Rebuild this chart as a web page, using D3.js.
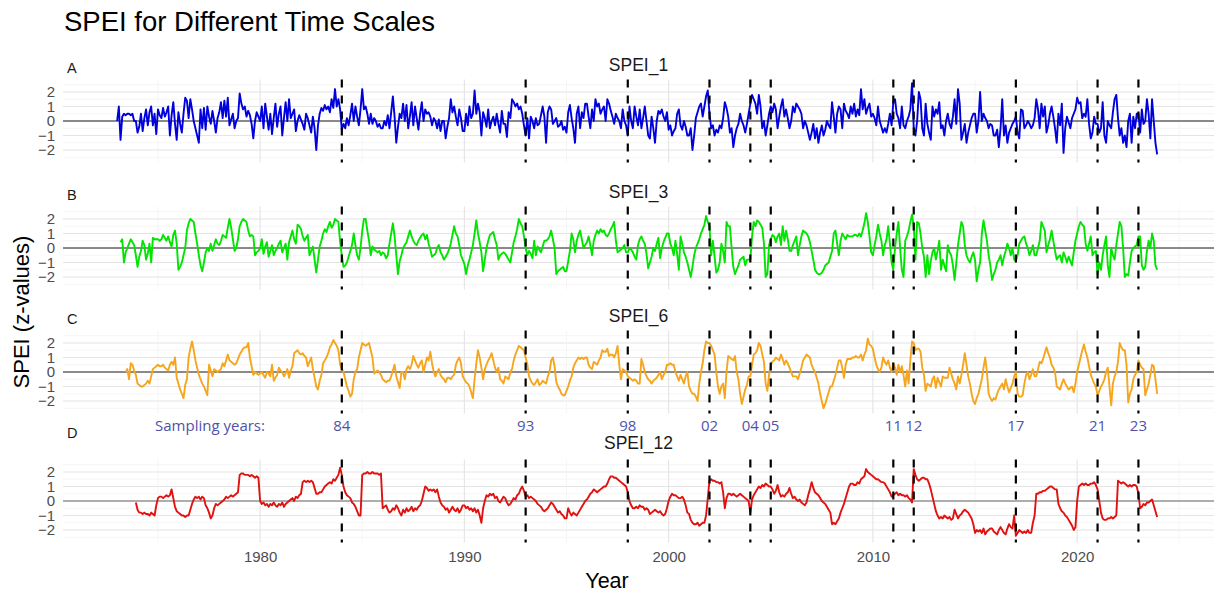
<!DOCTYPE html>
<html>
<head>
<meta charset="utf-8">
<script src="https://cdn.jsdelivr.net/npm/d3@7"></script>
<style>
  body { margin: 0; background: #fff; }
  text { font-family: "Liberation Sans", Arial, sans-serif; }
</style>
</head>
<body>
<svg class="s"></svg>
<script>
// monthly values, Jan 1973 - Dec 2023 (null = not yet defined for the time scale)
var spei1 = [
  0.0, 1.0, -1.3, 0.3, 0.5, 0.4, 0.5, 0.5, 0.4, 0.5, 0.0, 0.0,
  -0.8, -0.4, 0.5, -0.7, 0.2, 0.8, -0.3, 0.6, 1.0, -0.3, 0.5, -0.9,
  0.8, 0.4, 0.2, 0.9, 0.3, 0.6, 1.0, -1.0, 0.4, 1.3, -0.2, -1.3,
  0.6, -0.2, -0.8, 0.5, 1.6, 1.4, 0.2, 1.5, 0.8, 0.0, -0.5, -1.0,
  -1.5, 0.8, -0.5, 0.9, -0.6, 1.0, 0.3, -0.2, 0.7, 0.0, -0.8, 0.2,
  0.6, 1.3, 0.2, 1.4, 0.3, 1.6, -0.3, 0.1, 0.5, -0.5, 0.0, 0.2,
  1.9, 1.2, 0.8, 1.0, 0.3, 0.7, 0.4, -0.2, -1.2, 0.0, 0.6, 0.3,
  0.0, 1.0, -0.5, 1.2, 0.3, -0.6, 0.5, -0.9, 0.2, 1.2, -0.4, 0.5,
  1.0, -1.0, 0.2, 1.3, 0.0, 1.5, 0.2, 0.5, 0.8, -0.7, 0.0, 0.4,
  0.1, -0.2, -0.6, 0.5, 0.2, -0.3, -0.8, 0.3, -0.5, -2.0, -0.3, 0.5,
  0.9, 0.7, 1.1, 0.8, 1.0, 0.6, 1.5, 0.9, 2.2, 1.0, 1.5, 0.8,
  -0.6, -0.2, -0.5, 0.2, -0.3, 0.4, 1.2, 0.0, 1.0, 0.3, -0.3, 0.8,
  2.2, 0.8, 1.0, 0.5, -0.2, 0.5, -0.2, 0.2, 0.0, -0.4, -0.2, -0.5,
  -0.5, 0.0, -0.3, 0.4, -0.5, 0.6, 1.7, 0.3, -1.5, -0.4, 0.5, 0.2,
  1.2, 0.0, 1.1, -0.5, 0.3, 1.3, -0.3, 1.0, 0.2, -0.6, 0.5, 1.3,
  0.0, 0.8, 0.5, 0.6, 0.3, -0.3, 0.2, 0.0, -0.5, 0.1, -0.7, 0.0,
  0.0, -1.2, -0.4, 0.2, 1.5, 0.6, 1.0, 0.3, -0.3, 0.8, 0.2, -0.7,
  -0.7, 0.5, -0.3, 1.0, 0.2, 0.5, 2.1, 0.5, 1.2, 0.6, -1.0, 0.6,
  0.2, -0.4, 0.8, -0.5, 0.0, 0.3, -0.3, 0.5, -0.2, -0.8, 0.7, -0.2,
  -0.2, -1.1, 0.6, 0.2, 1.5, 1.3, 1.0, 1.2, 0.8, 1.0, 0.5, -0.3,
  -1.0, 0.2, -1.2, 0.3, 0.0, -0.5, 0.2, -0.3, -0.2, 0.4, 1.0, 0.3,
  -1.5, 0.6, 1.0, 0.8, -0.2, 0.0, 0.2, -0.4, -0.3, 0.0, -0.6, -0.4,
  -0.8, 0.6, 1.1, 0.2, -0.5, -1.5, 0.5, 1.0, -0.5, 0.6, 0.2, 1.2,
  1.2, 0.3, -0.5, 0.8, 0.0, 1.5, 1.0, 1.2, 0.5, 0.8, 1.0, 0.0,
  1.5, 1.2, 0.7, 0.3, -0.2, 0.5, 0.2, 0.0, -0.5, 0.8, 0.0, -0.3,
  -1.0, 1.0, 0.0, -0.5, 1.0, 0.3, -0.3, 0.8, -0.5, 0.2, 1.0, 0.0,
  -1.0, -1.2, 0.3, -0.5, -1.5, 0.0, 0.7, 0.5, 0.8, 0.3, 0.0, 0.6,
  -0.6, -0.3, -1.0, -0.7, -0.5, 0.5, 0.8, -0.3, -0.6, 0.0, -0.4, -1.0,
  -1.0, -0.5, -2.0, -1.0, 0.2, 0.6, 1.0, 1.2, 0.3, 1.0, 1.7, 2.1,
  0.5, -0.5, -0.3, -1.0, -0.6, -0.8, -0.3, -0.5, 0.2, 1.3, 0.9, 0.3,
  -0.8, -0.5, -1.8, -1.0, -0.5, -0.2, 0.5, 0.0, -0.3, -0.8, -0.2, 0.5,
  1.2, 1.8, 1.5, 1.2, 0.5, 1.8, 1.0, -0.5, 0.0, -1.0, -0.3, 0.5,
  1.0, 0.6, 1.2, 0.8, -0.5, 0.3, 1.0, 1.5, 0.3, 0.8, 0.2, -0.5,
  0.0, 1.0, 0.6, 1.2, 1.0, 0.8, 0.5, -0.5, 0.0, -0.3, -0.8, -1.3,
  -0.8, -0.2, -1.2, -0.5, -1.5, -0.8, -0.3, -1.0, -0.6, 0.0, -0.3, -0.5,
  1.3, 0.3, -0.8, 0.5, 1.0, 0.8, -0.5, 1.2, 0.7, 0.5, 0.2, 1.0,
  0.5, 1.2, 0.3, 0.8, 0.4, 2.2, 0.8, 1.5, 0.5, 0.9, 1.2, 0.3,
  0.5, 0.2, -0.3, 1.0, 0.0, -0.4, -0.8, -0.5, -0.8, -0.2, 0.5, -0.3,
  1.3, 1.5, 0.5, 0.2, -0.5, 1.0, -0.3, -0.5, 0.0, 0.3, 0.8, 2.6,
  -0.5, -1.0, 0.0, 2.0, 1.5, -0.5, -1.0, 1.2, -0.2, -0.8, -1.3, 1.0,
  0.3, 0.8, 0.5, 1.3, -0.5, -0.3, -1.0, 0.0, 0.5, -0.2, -0.5, 0.3,
  1.5, -0.2, 2.2, 1.2, -1.3, -0.8, -0.2, -1.5, -0.8, -0.3, 0.2, 0.5,
  0.5, -0.8, 0.0, 2.0, 0.0, 0.5, 0.2, 0.0, -0.5, -0.2, -0.3, -1.0,
  -1.0, -0.6, -1.8, -0.5, 1.5, -1.0, -0.3, -1.5, -0.8, -0.5, -0.2, 0.0,
  0.3, -0.8, -1.2, 0.8, 0.7, -0.5, -0.3, 0.0, -0.2, -0.5, -0.3, 0.2,
  1.5, 0.8, -0.5, 1.2, 0.3, 1.0, -0.8, -0.3, 0.5, 1.0, 0.3, -0.5,
  -1.5, 0.5, -0.3, 1.2, -2.2, -0.5, 0.3, -0.1, -0.5, 0.2, 0.5, 0.8,
  1.6, 1.2, 1.3, 0.2, 0.5, 0.3, 1.5, -0.2, -1.2, -0.8, 0.3, -0.2,
  -0.2, -0.8, -0.5, 1.3, -1.0, -1.5, 0.0, -0.3, -0.5, 0.6, 1.5, 1.8,
  0.2, -1.0, -0.5, -1.5, -1.0, -1.8, 0.0, 0.5, -1.5, 0.3, -0.5, 0.5,
  0.5, -0.8, 0.8, -0.2, 0.0, 1.5, 0.5, -1.2, 1.5, 0.0, -1.5, -2.3
];

var spei3 = [
  null, null, 0.4, 0.6, -1.0, -0.3, 0.0, 0.3, 0.6, 0.4, 0.2, -0.5,
  -1.3, -0.6, -0.2, 0.5, 0.2, -0.8, -0.4, 0.3, -1.0, 0.7, 0.6, 0.6,
  0.6, 0.5, 0.6, 0.9, 0.7, 0.5, 0.8, 0.4, 0.1, 0.9, 1.2, 0.3,
  -1.5, -1.3, -1.0, -0.5, 0.0, 1.2, 1.7, 2.0, 1.9, 1.8, 1.0, 0.3,
  -0.5, -1.2, -1.6, -1.0, -0.3, 0.0, -0.2, 0.3, -0.2, 0.2, 0.6, 0.3,
  0.2, 0.5, 0.9, 0.8, 0.7, 1.4, 2.0, 1.4, 0.6, -0.2, 0.0, 0.6,
  1.5, 1.8, 2.0, 1.9, 1.8, 1.2, 0.8, 0.9, 0.8, -0.5, -0.3, -0.2,
  0.0, 0.6, -0.4, 0.1, 0.4, -0.6, -0.2, 0.2, -0.5, -0.2, 0.0, 0.3,
  0.5, -0.3, 0.0, 0.3, -0.8, 0.4, 0.8, 1.2, 0.6, 0.3, 1.6, 1.5,
  1.3, 0.8, 0.5, 0.7, 0.9, -0.5, -0.2, 0.1, -0.8, -1.7, -0.8, 0.1,
  0.5, 1.0, 1.3, 1.1, 1.5, 1.8, 1.4, 1.6, 2.0, 1.9, 1.8, 0.4,
  -0.5, -1.3, -1.2, -1.0, -0.6, -0.2, 0.2, 1.0, 0.2, -0.5, -0.8, 0.0,
  1.2, 2.0, 2.0, 1.2, 0.5, -0.5, 0.1, -0.1, -0.2, -0.3, -0.2, -0.5,
  -0.3, -0.4, -0.7, -0.5, 0.3, 1.0, 1.7, 0.8, -0.5, -1.8, -0.9, -0.5,
  0.0, 0.2, 0.4, 0.8, 1.2, 0.8, 0.5, 0.3, 0.2, 0.5, 0.7, 0.9,
  1.0, 0.6, 0.9, 0.3, -0.1, -0.6, -0.5, -0.4, 0.0, 0.2, -0.3, -0.5,
  -0.8, -0.6, -0.4, -0.1, 0.3, 0.9, 1.5, 1.0, 0.8, 0.2, -0.5, -0.8,
  -1.1, -1.8, -1.2, -0.8, -0.3, 0.2, 1.0, 1.9, 1.0, 0.4, -0.3, -1.6,
  -0.8, 0.0, 0.5, 0.9, 1.0, 1.1, 0.6, 0.2, -0.8, -0.5, -0.4, -0.3,
  -0.4, -0.6, -0.8, -1.0, -0.3, 0.4, 0.8, 1.3, 2.0, 1.7, 1.5, 0.8,
  0.0, -0.5, -0.2, -0.4, -0.7, 0.5, -0.5, 0.1, -0.1, -0.3, 0.1, 0.5,
  0.5, 0.6, 0.8, 1.2, 0.6, 0.0, -1.8, -1.6, -1.5, -1.4, -1.3, -1.6,
  -1.6, -0.9, -0.2, 1.0, 0.6, -0.3, 0.5, 0.9, 1.2, 0.6, 0.0, 0.2,
  0.4, 0.8, 0.2, -0.5, 0.5, 0.9, 1.2, 1.0, 1.3, 1.1, 1.2, 0.9,
  0.8, 1.0, 1.3, 1.5, 1.8, 0.5, -0.3, -0.2, -0.1, 0.0, 0.2, -0.3,
  -0.3, 0.0, -0.1, -0.3, -0.6, -0.8, 0.2, 0.6, 0.8, 0.5, 0.3, -0.4,
  -1.4, -1.0, -0.6, 0.0, -0.2, 0.3, 0.7, -0.7, 0.0, 0.4, 0.7, 1.0,
  1.0, 0.3, 0.0, -0.5, 0.5, -0.4, -1.5, 0.8, 0.3, -0.3, -0.6, -1.0,
  -1.5, -2.0, -1.3, -0.5, 0.0, 0.3, 0.6, 1.0, 1.3, 1.6, 2.2, 1.8,
  1.5, -0.5, 0.5, -0.6, -1.7, -1.5, -1.0, 0.3, -0.2, -1.0, 1.8, 1.5,
  1.5, 0.0, -1.3, -1.8, -1.5, -1.2, -0.8, -0.7, -0.6, -1.2, -0.8, -0.8,
  -0.8, 0.8, 1.8, 1.5, 1.9, 1.8, 1.6, 1.4, 0.3, -2.0, -1.8, 0.2,
  0.6, 0.9, 0.8, 0.4, 0.8, 1.0, 0.2, 1.5, 0.5, 1.2, 0.6, -0.2,
  -0.2, 0.2, 0.5, 0.8, -0.5, 0.2, 0.8, 1.2, 1.1, 1.0, 0.8, 0.4,
  -0.2, -0.8, -1.5, -1.7, -1.8, -1.8, -1.7, -1.5, -1.2, -1.1, -1.0, -0.6,
  -0.2, 1.0, 1.2, 0.3, -0.5, 0.5, 1.0, 0.8, 0.6, 0.9, 0.8, 0.8,
  0.8, 0.9, 0.9, 0.8, 1.0, 0.8, 1.2, 1.7, 2.4, 1.8, 0.8, -0.3,
  -0.5, 0.2, 0.8, 1.6, 1.0, 0.5, -0.5, 0.2, 0.6, 1.5, 0.3, -1.0,
  -1.5, 0.0, 1.0, 1.8, 0.0, -1.5, -2.0, 0.5, 0.8, 1.2, 1.8, 2.3,
  1.5, -0.8, 1.8, 1.7, 1.0, 0.0, -0.6, -2.0, -0.5, -1.8, -0.9, -0.3,
  0.0, -0.8, -0.2, 0.5, -1.5, -0.8, -1.2, -1.6, 0.2, -0.3, -0.5, -1.2,
  -2.2, -1.0, 0.2, 1.0, 1.8, 1.5, 0.2, -0.5, -0.8, -1.0, -0.6, -0.3,
  -0.8, -2.3, -1.5, -1.0, 1.0, 1.9, 1.2, 0.5, -0.5, -1.2, -2.2, -1.8,
  -1.5, -1.0, -0.8, -0.5, -1.2, -0.6, -0.2, 0.3, 0.0, -0.5, 0.0, -0.8,
  -0.9, -0.5, 0.3, 0.5, 0.7, 0.8, 0.3, 0.0, -0.5, -0.2, 0.2, -0.5,
  -0.5, 0.0, 0.5, 1.8, 1.5, 1.2, -0.3, 0.2, 0.6, 1.2, 0.5, -0.2,
  -0.8, -0.6, -0.5, -1.0, -0.3, -0.6, -1.0, -0.6, -0.9, -1.2, -0.3, 0.5,
  1.0, 1.5, 1.8, 1.6, 1.5, 0.3, -0.2, 0.3, 0.8, -0.5, -0.3, -0.2,
  -1.8, -1.0, -1.5, -0.5, 0.2, 0.8, -1.2, -2.0, 0.0, -0.5, -0.8, 0.2,
  1.0, 1.8, 1.5, 0.0, -2.0, -1.8, -1.9, -1.0, -0.2, 0.0, 0.1, 0.2,
  0.8, 0.8, -1.2, -1.5, -1.3, -0.2, 0.5, 0.0, 1.0, 0.5, -1.2, -1.5
];

var spei6 = [
  null, null, null, null, null, 0.0, 0.2, -0.5, 0.6, 0.5, 0.1, -0.2,
  -0.8, -0.9, -1.0, -1.0, -0.9, -0.8, -0.6, -0.8, -0.3, 0.2, 0.3, 0.4,
  0.5, 0.4, 0.4, 0.5, 0.3, 0.2, 0.1, 0.5, 0.7, 0.5, 1.0, -0.4,
  -0.8, -1.2, -1.5, -1.8, -0.9, -0.5, 1.0, 1.6, 2.1, 1.5, 0.8, 0.3,
  -0.2, -0.5, -0.8, -1.0, -1.3, -1.6, 0.5, 0.1, -0.3, 0.2, 0.1, 0.0,
  0.1, 0.2, 0.6, 0.4, 0.8, 1.2, 0.8, 0.7, 0.6, 0.5, 0.6, 0.9,
  1.2, 1.4, 1.6, 1.7, 1.7, 2.0, 1.0, 0.4, -0.2, 0.0, -0.1, -0.2,
  -0.1, 0.0, -0.2, -0.4, 0.0, -0.1, -0.3, 0.5, -0.6, -0.4, -0.2, 0.3,
  0.1, 0.0, -0.3, -0.1, 0.2, -0.4, 0.1, 0.4, 1.3, 1.4, 1.5, 1.3,
  1.2, 1.3, 1.1, 1.0, 0.4, 0.7, 1.0, 0.2, -0.4, -1.0, -1.2, -0.6,
  -0.2, 0.6, 0.8, 1.0, 1.3, 1.7, 1.9, 2.2, 2.0, 1.8, 1.5, 0.5,
  0.2, 0.0, -0.5, -1.0, -1.3, -1.7, -1.5, -0.5, 0.0, 0.2, 1.0, 1.5,
  2.0, 1.9, 1.8, 1.9, 2.0, 1.5, 1.0, -0.1, 0.0, 0.1, 0.0, -0.2,
  -0.5, -0.6, -0.7, -0.6, -0.6, -0.3, 0.1, 0.5, -0.3, -0.7, -1.1, 0.0,
  0.0, -0.5, 0.2, 0.4, 0.2, 0.5, 1.1, 0.8, 0.5, 0.3, 0.6, 0.8,
  0.0, 0.5, 1.0, 0.8, 1.4, 0.6, 0.0, -0.3, 0.0, 0.2, -0.2, -0.4,
  -0.5, -0.7, -0.4, -0.4, -0.5, -0.3, -0.2, 0.5, 0.8, 1.0, 0.6, -0.3,
  -0.5, -0.7, -0.8, -1.0, -1.4, -1.8, -0.5, 0.6, 1.5, 1.0, 0.3, -0.5,
  0.2, 0.5, 0.8, 1.0, 1.3, 0.8, 0.3, 0.0, 0.3, -0.5, -0.6, -0.8,
  -0.3, -0.4, -0.5, 0.0, 0.2, 0.8, 1.2, 1.5, 1.8, 1.7, 1.6, 1.5,
  1.0, 0.5, -0.3, -0.6, -0.8, -0.9, -0.7, -0.5, -0.9, -0.8, -0.6, -0.7,
  -0.8, -0.3, 0.0, 0.8, 1.0, 0.4, -0.7, -1.0, -1.2, -1.5, -1.6, -1.6,
  -1.3, -1.0, -0.6, -0.3, 0.3, 0.6, 0.8, 1.0, 0.9, 1.0, 0.9, 1.0,
  1.0, 0.5, 0.3, 0.2, 0.7, 0.6, 0.5, 0.8, 1.0, 1.5, 1.4, 1.4,
  1.6, 1.1, 1.2, 1.2, 1.0, 1.3, 1.8, 0.5, -0.5, 0.2, 0.1, 0.0,
  -0.3, -0.4, -0.5, -0.6, -0.5, -0.6, -0.8, -0.8, 0.9, 0.5, 0.0, -0.3,
  -0.5, -0.6, -0.8, -0.6, -0.5, -0.4, -0.2, 0.0, -0.5, -0.2, 0.0, 0.5,
  0.5, 0.6, 0.5, 0.5, 0.0, -0.3, -0.6, -0.2, -0.5, -0.8, -0.3, 0.0,
  -1.0, -1.3, -1.5, -1.5, -1.7, -2.0, -0.8, 0.0, 0.6, 1.5, 2.1, 2.0,
  2.0, 1.8, 1.5, 1.2, 0.0, -1.0, -1.5, -1.0, -0.8, -1.8, 0.0, 1.1,
  1.0, 0.9, 0.8, 1.1, 0.0, -0.5, -1.5, -2.2, -1.7, -1.2, -0.9, -0.3,
  -0.3, 0.5, 1.2, 1.3, 1.5, 2.0, 1.8, 1.2, 0.7, -0.8, -1.3, -0.2,
  0.5, 0.7, 0.8, 1.0, 0.9, 0.8, 1.2, 0.9, 0.5, 0.8, 0.6, 0.3,
  0.0, -0.3, -0.3, -0.3, -0.5, -0.1, 0.3, 0.8, 1.0, 1.2, 1.1, 1.0,
  0.5, 0.2, 0.0, -0.4, -0.8, -1.5, -2.0, -2.5, -2.2, -1.8, -1.4, -1.0,
  -1.0, -0.6, -0.2, 0.3, 0.8, 0.8, 0.3, -0.4, 0.5, 0.9, 0.9, 0.9,
  1.0, 1.0, 1.1, 1.0, 1.0, 1.2, 0.8, 1.2, 1.5, 2.3, 1.9, 1.8,
  1.6, 1.0, 0.5, 0.2, 0.0, 0.3, 1.0, 0.7, 0.5, 0.8, 0.3, 0.0,
  0.6, 0.3, -0.2, 0.5, 0.0, 0.4, -0.2, -1.0, 0.1, -0.8, 0.8, 2.1,
  2.0, 1.5, 1.6, 1.6, 1.4, 0.3, -0.2, -1.3, -0.8, -0.9, -1.0, -0.5,
  -0.3, -1.1, -0.4, -0.7, -1.0, -0.3, -0.4, -0.4, -0.4, 0.3, -0.1, -0.5,
  -0.8, -1.2, -0.3, -0.8, -0.2, 0.5, 1.3, 0.5, -0.3, -0.8, -1.5, -2.0,
  -2.2, -1.8, -1.5, -1.0, -0.5, 0.3, 1.0, 0.0, -1.5, -1.8, -2.0, -1.8,
  -1.9, -1.5, -1.2, -1.0, -0.8, -1.2, -0.5, -1.0, -1.4, -1.1, -0.8, -0.3,
  0.0, -1.5, -1.7, -1.7, -1.6, -0.8, -0.2, 0.0, -0.5, -0.2, 0.2, -0.3,
  -0.3, 0.2, 0.7, 0.6, 0.9, 1.3, 1.7, 1.3, 1.0, 0.5, 0.3, 0.0,
  -1.0, -1.1, -1.2, -0.8, -0.5, -0.8, -1.0, -1.2, -1.1, -1.0, -1.4, -0.8,
  0.0, 0.5, 1.0, 1.5, 1.9, 1.4, 1.0, 0.4, -0.2, -0.5, -0.8, -1.0,
  -1.6, -1.3, -1.0, -0.8, -0.5, 0.0, 0.3, -1.0, -2.3, -0.8, -0.3, 0.0,
  0.7, 2.0, 1.7, 1.5, 1.5, 0.5, -2.1, -1.5, -1.2, -0.5, -0.2, 0.0,
  0.8, 0.5, 0.3, 0.2, -1.6, -1.2, -0.8, -0.2, 0.5, 0.4, -0.5, -1.5
];

var spei12 = [
  null, null, null, null, null, null, null, null, null, null, null, -0.1,
  -0.6, -0.8, -0.8, -0.9, -0.8, -0.9, -0.9, -1.0, -0.8, -0.9, -1.0, -0.3,
  0.2, 0.3, 0.3, 0.2, 0.3, 0.4, 0.3, 0.4, 0.8, 0.2, -0.4, -0.7,
  -0.8, -0.9, -1.0, -1.0, -1.1, -1.0, -1.0, -0.6, -0.2, 0.1, 0.3, 0.2,
  0.3, 0.1, 0.3, 0.2, -0.3, -0.5, -0.8, -1.2, -1.0, -0.5, -0.2, -0.3,
  -0.2, -0.1, 0.0, 0.1, 0.3, 0.2, 0.3, 0.4, 0.3, 0.4, 0.5, 0.6,
  1.8, 1.9, 1.9, 1.8, 1.8, 1.8, 1.7, 1.8, 1.7, 1.6, 1.7, 1.6,
  0.0, -0.2, -0.1, -0.3, -0.2, -0.4, -0.2, -0.3, -0.1, -0.3, -0.4, -0.2,
  -0.3, -0.1, -0.4, -0.2, -0.1, 0.0, 0.1, 0.2, 0.0, 0.3, 0.2, 0.4,
  0.5, 1.3, 1.4, 1.3, 1.4, 1.3, 1.4, 1.3, 0.9, 0.5, 0.5, 0.6,
  0.6, 0.8, 1.0, 1.1, 1.2, 1.3, 1.2, 1.5, 1.4, 1.6, 1.8, 2.3,
  1.8, 1.0, 0.6, 0.4, 0.3, 0.2, -0.1, -0.2, -0.4, -0.7, -1.0, -1.0,
  1.8, 1.9, 1.9, 2.0, 1.9, 1.9, 2.0, 1.9, 1.9, 1.9, 1.8, 1.9,
  -0.5, -0.4, -0.3, -0.6, -0.8, -0.7, -0.5, -0.6, -0.3, -0.5, -0.8, -1.0,
  -0.6, -0.8, -0.5, -0.7, -0.6, -0.4, -0.7, -0.5, -0.6, -0.4, -0.3, 0.0,
  0.5, 1.0, 0.9, 0.7, 0.8, 0.7, 0.8, 0.6, 0.8, 0.3, -0.1, -0.3,
  -0.4, -0.6, -0.5, -0.8, -0.6, -0.4, -0.6, -0.7, -0.5, -0.8, -0.6, -0.3,
  -0.3, -0.5, -0.4, -0.6, -0.5, -0.7, -0.5, -0.8, -0.6, -1.0, -1.5, -0.5,
  0.0, 0.4, 0.3, 0.5, 0.4, 0.5, 0.2, 0.3, 0.0, -0.1, 0.1, 0.3,
  0.2, -0.1, -0.3, -0.2, 0.0, 0.2, 0.1, 0.4, 0.5, 0.8, 1.0, 0.7,
  0.3, 0.4, 0.2, 0.3, 0.2, 0.1, 0.0, -0.2, -0.3, -0.4, -0.6, -0.7,
  -0.6, -0.5, -0.3, -0.1, -0.2, -0.4, -0.6, -0.8, -0.7, -0.9, -1.0, -1.2,
  -1.2, -0.5, -0.8, -1.0, -0.8, -0.9, -1.0, -0.8, -0.6, -0.4, -0.2, 0.0,
  0.1, 0.3, 0.5, 0.6, 0.8, 0.7, 0.6, 0.7, 0.8, 0.9, 1.0, 1.0,
  1.2, 1.5, 1.7, 1.7, 1.6, 1.6, 1.5, 1.4, 1.3, 1.2, 1.1, 1.0,
  0.6, 0.0, -0.3, -0.5, -0.5, -0.4, -0.5, -0.3, -0.4, -0.4, -0.6, -0.5,
  -0.6, -0.9, -0.8, -0.7, -0.6, -0.7, -0.8, -0.7, -0.9, -1.0, -0.9, -0.5,
  0.0, 0.3, 0.5, 0.4, 0.4, 0.3, 0.2, 0.2, 0.3, 0.1, -0.3, -0.8,
  -0.9, -1.3, -1.5, -1.6, -1.6, -1.5, -1.7, -1.6, -1.5, -1.5, -1.0, 0.2,
  1.4, 1.5, 1.4, 1.4, 1.3, 1.3, 1.2, 1.3, 0.6, -0.5, 0.2, 0.5,
  0.5, 0.4, 0.5, 0.4, 0.3, 0.4, 0.5, 0.4, 0.3, 0.2, 0.1, 0.0,
  -0.8, 0.1, 0.4, 0.6, 0.8, 1.0, 0.9, 1.1, 1.0, 1.2, 1.1, 1.0,
  1.0, 0.8, 0.5, 0.7, 1.1, 0.6, 0.3, 0.4, 0.3, 0.5, 0.6, 0.9,
  0.5, 0.2, 0.3, 0.1, 0.0, 0.1, -0.1, -0.2, -0.3, -0.1, 0.4, 0.8,
  1.3, 0.9, 0.6, 0.5, 0.4, 0.2, 0.0, -0.1, -0.2, -0.4, -0.6, -0.8,
  -1.6, -1.5, -1.6, -1.4, -1.2, -0.8, -0.5, -0.2, 0.2, 0.6, 1.0, 1.2,
  1.2, 1.1, 1.1, 1.3, 1.2, 1.5, 1.6, 1.7, 2.2, 2.0, 1.9, 1.8,
  1.7, 1.6, 1.5, 1.5, 1.4, 1.3, 1.3, 1.2, 1.0, 0.8, 0.6, 0.3,
  0.4, 0.5, 0.6, 0.4, 0.5, 0.4, 0.4, 0.3, 0.4, 0.2, 0.1, -0.1,
  2.2, 1.8, 1.5, 1.4, 1.5, 1.6, 1.6, 1.5, 1.5, 1.2, 0.8, 0.3,
  -0.2, -0.7, -1.0, -1.2, -1.1, -1.2, -1.0, -1.1, -1.2, -1.1, -1.3, -1.2,
  -0.6, -0.9, -1.2, -1.0, -0.9, -0.7, -0.6, -0.7, -0.8, -1.0, -1.2, -1.6,
  -2.2, -2.0, -2.1, -2.0, -2.2, -1.9, -2.3, -2.1, -2.0, -1.9, -1.9, -2.1,
  -2.2, -2.3, -2.0, -1.8, -2.0, -2.2, -2.3, -1.9, -1.6, -1.8, -1.9, -1.0,
  -2.4, -2.2, -2.0, -2.1, -2.2, -2.1, -2.2, -2.0, -2.2, -2.2, -1.5, -1.0,
  0.5, 0.5, 0.6, 0.6, 0.7, 0.7, 0.8, 0.9, 1.0, 1.0, 0.9, 0.8,
  0.8, -0.2, -0.5, -0.7, -0.8, -1.0, -1.1, -1.3, -1.5, -1.7, -2.0, -1.8,
  0.0, 1.0, 1.1, 1.2, 1.1, 1.2, 1.1, 1.1, 1.2, 1.2, 1.3, 1.1,
  0.8, 0.0, -0.8, -1.2, -1.3, -1.3, -1.2, -1.2, -1.1, -1.2, -1.1, -1.0,
  1.4, 1.3, 1.2, 1.3, 1.2, 1.1, 1.0, 1.1, 1.0, 1.1, 1.1, 1.0,
  0.5, -0.5, -0.4, -0.2, -0.3, -0.1, -0.1, 0.0, 0.1, -0.3, -0.7, -1.1
];

var startYear = 1973;
var panelNames = ['SPEI_1', 'SPEI_3', 'SPEI_6', 'SPEI_12'];
var panelTags = ['A', 'B', 'C', 'D'];
var panelColors = ['#0000DD', '#00E400', '#F5A61E', '#E0110F'];
var samplingYears = [1984, 1993, 1998, 2002, 2004, 2005, 2011, 2012, 2017, 2021, 2023];
var samplingLabels = ['84', '93', '98', '02', '04', '05', '11', '12', '17', '21', '23'];
var yTicks = [-2, -1, 0, 1, 2];
var xTicks = [1980, 1990, 2000, 2010, 2020];

var w = 1214;
var h = 596;

var svg = d3.select('.s')
            .attr('width', w)
            .attr('height', h);

var x = d3.scaleLinear()
          .domain([1970.35, 2026.7])
          .range([63, 1214]);

var zeros = [121, 248, 372, 501];
var titleY = [71, 198, 322, 449];   // baselines of the panel titles
var tagY = [73, 200, 324, 438];
var half = 41.5;
var series = [spei1, spei3, spei6, spei12];

// title
svg.append('text')
   .attr('x', 64).attr('y', 31)
   .attr('font-size', 27.5)
   .attr('fill', '#000')
   .text('SPEI for Different Time Scales');

series.forEach(function(vals, p) {
  var z = zeros[p];
  var y = d3.scaleLinear()
            .domain([-2.86, 2.86])
            .range([z + half, z - half]);

  var g = svg.append('g').attr('class', 'panel');

  // horizontal grid
  g.selectAll('.hgrid')
   .data(d3.range(-5, 6).map(function(k){ return k / 2; }))
   .enter().append('line')
   .attr('x1', x.range()[0]).attr('x2', x.range()[1])
   .attr('y1', function(d){ return y(d); })
   .attr('y2', function(d){ return y(d); })
   .attr('stroke', function(d){ return d % 1 === 0 ? '#e4e4e4' : '#f0f0f0'; })
   .attr('stroke-width', function(d){ return d % 1 === 0 ? 1.1 : 0.7; });

  // vertical grid
  g.selectAll('.vgrid')
   .data(d3.range(1975, 2026, 5))
   .enter().append('line')
   .attr('x1', function(d){ return x(d); })
   .attr('x2', function(d){ return x(d); })
   .attr('y1', y(2.86)).attr('y2', y(-2.86))
   .attr('stroke', function(d){ return d % 10 === 0 ? '#e4e4e4' : '#f0f0f0'; })
   .attr('stroke-width', function(d){ return d % 10 === 0 ? 1.1 : 0.7; });

  // zero line
  g.append('line')
   .attr('x1', x.range()[0]).attr('x2', x.range()[1])
   .attr('y1', y(0)).attr('y2', y(0))
   .attr('stroke', p === 3 ? '#6b6b6b' : '#222')
   .attr('stroke-width', 1);

  // y tick labels
  var yAxis = d3.axisLeft(y).tickValues(yTicks).tickSize(0).tickPadding(8)
                .tickFormat(d3.format('d'));
  var ya = g.append('g')
            .attr('transform', 'translate(' + x.range()[0] + ',0)')
            .call(yAxis);
  ya.select('.domain').remove();
  ya.selectAll('text')
    .attr('font-size', 15)
    .attr('fill', '#4d4d4d')
    .style('font-family', '"Liberation Sans", Arial, sans-serif');

  // the series
  var line = d3.line()
               .defined(function(d){ return d !== null; })
               .x(function(d, i){ return x(startYear + i / 12); })
               .y(function(d){ return y(d); });

  g.append('path')
   .datum(vals)
   .attr('d', line)
   .attr('fill', 'none')
   .attr('stroke', panelColors[p])
   .attr('stroke-width', 1.9)
   .attr('stroke-linejoin', 'round');

  // sampling years
  g.selectAll('.vline')
   .data(samplingYears)
   .enter().append('line')
   .attr('x1', function(d){ return x(d); })
   .attr('x2', function(d){ return x(d); })
   .attr('y1', y(2.86)).attr('y2', y(-2.86))
   .attr('stroke', '#000')
   .attr('stroke-width', 2.2)
   .attr('stroke-dasharray', '8,8');

  // panel title and tag
  g.append('text')
   .attr('x', (x.range()[0] + x.range()[1]) / 2)
   .attr('y', titleY[p])
   .attr('text-anchor', 'middle')
   .attr('font-size', 17.5)
   .attr('fill', '#1a1a1a')
   .text(panelNames[p]);

  g.append('text')
   .attr('x', 67)
   .attr('y', tagY[p])
   .attr('font-size', 14.5)
   .attr('fill', '#1a1a1a')
   .text(panelTags[p]);

  if (p === 3) {
    var xAxis = d3.axisBottom(x).tickValues(xTicks).tickSize(0).tickPadding(9)
                  .tickFormat(d3.format('d'));
    var xa = g.append('g')
              .attr('transform', 'translate(0,' + y(-2.86) + ')')
              .call(xAxis);
    xa.select('.domain').remove();
    xa.selectAll('text')
      .attr('font-size', 15)
      .attr('fill', '#4d4d4d')
      .style('font-family', '"Liberation Sans", Arial, sans-serif');
  }
});

// sampling year labels
svg.append('text')
   .attr('x', 210).attr('y', 431)
   .attr('text-anchor', 'middle')
   .attr('font-size', 15)
   .attr('fill', '#4f52a8')
   .style('font-family', '"Open Sans", sans-serif')
   .text('Sampling years:');

svg.selectAll('.slab')
   .data(samplingYears)
   .enter().append('text')
   .attr('x', function(d){ return x(d); })
   .attr('y', 431)
   .attr('text-anchor', 'middle')
   .attr('font-size', 15)
   .attr('fill', '#4f52a8')
   .style('font-family', '"Open Sans", sans-serif')
   .text(function(d, i){ return samplingLabels[i]; });

// axis titles
svg.append('text')
   .attr('x', 607)
   .attr('y', 588)
   .attr('text-anchor', 'middle')
   .attr('font-size', 21.5)
   .attr('fill', '#000')
   .text('Year');

svg.append('text')
   .attr('transform', 'translate(29,312) rotate(-90)')
   .attr('text-anchor', 'middle')
   .attr('font-size', 22)
   .attr('fill', '#000')
   .text('SPEI (z-values)');
</script>
</body>
</html>
